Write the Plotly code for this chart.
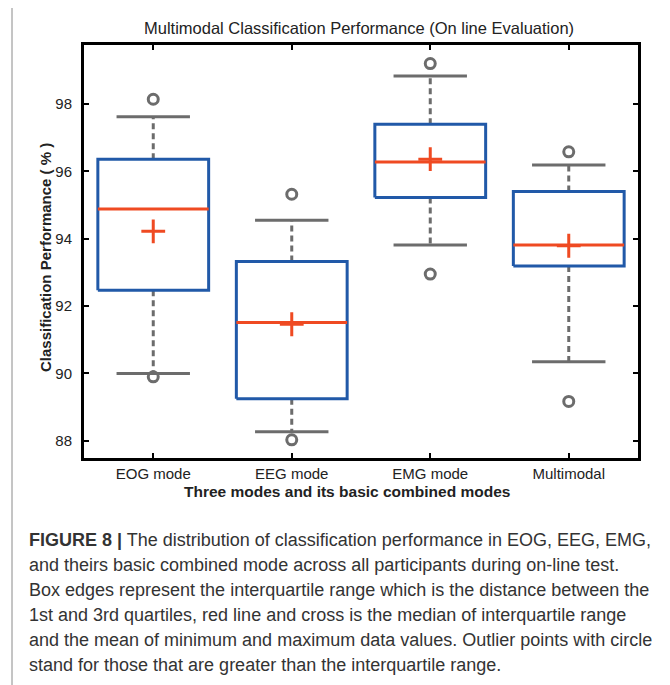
import plotly.graph_objects as go

# ---- data ----
categories = ["EOG mode", "EEG mode", "EMG mode", "Multimodal"]
q1 = [92.47, 89.25, 95.22, 93.19]
q3 = [96.36, 93.32, 97.40, 95.40]
median = [94.88, 91.51, 96.28, 93.81]
mean_cross = [94.22, 91.46, 96.36, 93.79]
whisker_low = [90.00, 88.27, 93.81, 90.35]
whisker_high = [97.62, 94.55, 98.83, 96.19]
outlier_low = [89.90, 88.03, 92.95, 89.17]
outlier_high = [98.14, 95.32, 99.20, 96.58]
y_ticks = [88, 90, 92, 94, 96, 98]

caption_lines = [
    "<b>FIGURE 8 |</b> The distribution of classification performance in EOG, EEG, EMG,",
    "and theirs basic combined mode across all participants during on-line test.",
    "Box edges represent the interquartile range which is the distance between the",
    "1st and 3rd quartiles, red line and cross is the median of interquartile range",
    "and the mean of minimum and maximum data values. Outlier points with circle",
    "stand for those that are greater than the interquartile range.",
]

# ---- style ----
BLUE = "#2159a8"
RED = "#ef4a22"
GRAY = "#6c6c6c"
BOX_HW = 0.40
CAP_HW = 0.265
FONT = "Liberation Sans, Arial, sans-serif"

xs = list(range(1, len(categories) + 1))

box_x, box_y = [], []
med_x, med_y = [], []
wh_x, wh_y = [], []
cap_x, cap_y = [], []
for i, x in enumerate(xs):
    box_x += [x - BOX_HW, x + BOX_HW, x + BOX_HW, x - BOX_HW, x - BOX_HW, None]
    box_y += [q1[i], q1[i], q3[i], q3[i], q1[i], None]
    med_x += [x - BOX_HW, x + BOX_HW, None]
    med_y += [median[i], median[i], None]
    wh_x += [x, x, None, x, x, None]
    wh_y += [q3[i], whisker_high[i], None, q1[i], whisker_low[i], None]
    cap_x += [x - CAP_HW, x + CAP_HW, None, x - CAP_HW, x + CAP_HW, None]
    cap_y += [whisker_high[i], whisker_high[i], None, whisker_low[i], whisker_low[i], None]

fig = go.Figure()
fig.add_trace(go.Scatter(x=wh_x, y=wh_y, mode="lines",
                         line=dict(color=GRAY, width=3, dash="6px,4px"), hoverinfo="skip"))
fig.add_trace(go.Scatter(x=cap_x, y=cap_y, mode="lines",
                         line=dict(color=GRAY, width=3), hoverinfo="skip"))
fig.add_trace(go.Scatter(x=box_x, y=box_y, mode="lines",
                         line=dict(color=BLUE, width=3), hoverinfo="skip"))
fig.add_trace(go.Scatter(x=med_x, y=med_y, mode="lines",
                         line=dict(color=RED, width=3), hoverinfo="skip"))
fig.add_trace(go.Scatter(x=xs + xs, y=outlier_low + outlier_high, mode="markers",
                         marker=dict(symbol="circle-open", size=10, color=GRAY,
                                     line=dict(width=3, color=GRAY))))
fig.add_trace(go.Scatter(x=xs, y=mean_cross, mode="markers",
                         marker=dict(symbol="cross-thin-open", size=17, color=RED,
                                     line=dict(width=3, color=RED))))

# page body has an 8px margin: work in window pixels and subtract it
OFF = 8
W, H = 670 - OFF, 685 - OFF
L, R, T, B = 84 - OFF, 670 - 638, 45 - OFF, 685 - 458
ph = H - T - B
pw = W - L - R

def py(ypx):
    return (H - B - (ypx - OFF)) / ph

def px(xpx):
    return ((xpx - OFF) - L) / pw

annotations = []
annotations.append(dict(text="Multimodal Classification Performance (On line Evaluation)",
                        xref="paper", yref="paper", x=px(359), y=py(28),
                        xanchor="center", yanchor="middle", showarrow=False,
                        font=dict(family=FONT, size=16.5, color="#222")))
annotations.append(dict(text="<b>Three modes and its basic combined modes</b>",
                        xref="paper", yref="paper", x=px(347), y=py(491),
                        xanchor="center", yanchor="middle", showarrow=False,
                        font=dict(family=FONT, size=15.5, color="#222")))
annotations.append(dict(text="<b>Classification Performance ( % )</b>",
                        xref="paper", yref="paper", x=px(45), y=py(258),
                        xanchor="center", yanchor="middle", showarrow=False, textangle=-90,
                        font=dict(family=FONT, size=15, color="#222")))
cap_y0, cap_dy = 540, 25.0
for k, line in enumerate(caption_lines):
    annotations.append(dict(text=line, xref="paper", yref="paper",
                            x=px(27), y=py(cap_y0 + k * cap_dy),
                            xanchor="left", yanchor="middle", showarrow=False,
                            font=dict(family=FONT, size=18, color="#333")))

fig.update_layout(
    width=W, height=H,
    margin=dict(l=L, r=R, t=T, b=B),
    paper_bgcolor="white", plot_bgcolor="white",
    showlegend=False,
    annotations=annotations,
    shapes=[dict(type="rect", xref="paper", yref="paper",
                 x0=px(12), x1=px(663), y0=py(720), y1=py(4.5),
                 line=dict(color="#8a8a8a", width=1), layer="below")],
    xaxis=dict(range=[0.5, 4.5], tickvals=xs, ticktext=categories,
               ticks="inside", ticklen=5, tickwidth=2, tickcolor="black",
               showline=True, linewidth=3, linecolor="black", mirror="ticks",
               showgrid=False, zeroline=False,
               tickfont=dict(family=FONT, size=15, color="#222")),
    yaxis=dict(range=[87.49, 99.75], tickvals=y_ticks,
               ticks="inside", ticklen=5, tickwidth=2, tickcolor="black",
               showline=True, linewidth=3, linecolor="black", mirror="ticks",
               showgrid=False, zeroline=False, ticklabelstandoff=6,
               tickfont=dict(family=FONT, size=15, color="#222")),
)

fig.write_html("out.html")
